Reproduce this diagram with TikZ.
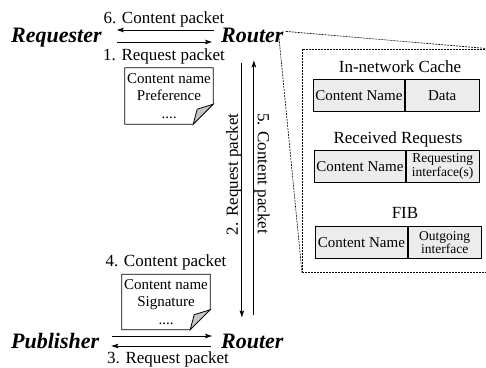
\documentclass[tikz,border=0pt]{standalone}
\usepackage{fontspec}
\setmainfont{Liberation Serif}
\usetikzlibrary{positioning, arrows.meta}

\tikzset{
  party/.style={font=\fontsize{22}{24}\selectfont\bfseries\itshape, inner sep=0pt},
  msg/.style={font=\fontsize{17}{18}\selectfont, inner sep=0pt},
  pkt/.style={line width=0.9pt, -{Stealth[length=7pt, width=4.5pt, inset=1.5pt]}},
  doc/.style={align=center, font=\fontsize{15}{17.5}\selectfont, inner sep=0pt},
  title/.style={font=\fontsize{17}{18}\selectfont, inner sep=0pt},
  cell/.style={draw, fill=gray!15, line width=0.8pt, minimum height=32pt, inner sep=1pt,
    align=center, font=\fontsize{15}{14.5}\selectfont},
  small/.style={font=\fontsize{13.5}{13.5}\selectfont},
  zoomline/.style={line width=0.6pt, dash pattern=on 2pt off 1pt}
}

% sheet outline with a folded corner round a node
\newcommand{\dogear}[1]{%
  \draw[line width=0.8pt] (#1.north west) -- (#1.north east) -- ([yshift=20pt]#1.south east)
    -- ([xshift=-20pt]#1.south east) -- (#1.south west) -- cycle;
  \filldraw[fill=gray!45, line width=0.8pt] ([yshift=20pt]#1.south east)
    .. controls ([xshift=-8pt,yshift=17pt]#1.south east) .. ([xshift=-16pt,yshift=15pt]#1.south east)
    -- ([xshift=-20pt]#1.south east) -- cycle;}

\begin{document}
\begin{tikzpicture}[x=1pt, y=-1pt]
    \useasboundingbox (0,0) rectangle (486,367);

    % Parties of the exchange
    \node[party, anchor=base west] (req) at (11,42) {Requester};  % consumer
    \node[party, anchor=base west] (rtTop) at (221,42) {Router};  % first hop
    \node[party, anchor=base west] (pub) at (11,348) {Publisher};  % producer
    \node[party, anchor=base west] (rtBot) at (221,348) {Router};  % last hop

    % Packets carried along
    \node[doc, minimum width=88pt, minimum height=56pt] (reqDoc) at (169,96) {Content name\\Preference\\....};
    \node[doc, minimum width=88pt, minimum height=55pt] (pubDoc) at (166,302) {Content name\\Signature\\....};
    \dogear{reqDoc}
    \dogear{pubDoc}
    \node[msg, above=3pt of reqDoc, xshift=-5pt] (reqLbl) {1. Request packet};
    \node[msg, above=3.5pt of pubDoc] (pubLbl) {4. Content packet};
    \node[msg, anchor=base] (backLbl) at (164,23) {6. Content packet};
    \node[msg, anchor=base] (askLbl) at (168,363) {3. Request packet};

    % Messages between requester and router
    \draw[pkt] ([xshift=-7pt, yshift=12pt]rtTop.base west) -- ([xshift=15pt, yshift=12pt]req.base east);
    \draw[pkt] ([xshift=15pt]req.base east) -- ([xshift=-9pt]rtTop.base west);

    % Messages between publisher and router
    \draw[pkt] ([xshift=13pt, yshift=12pt]pub.base east) -- ([xshift=-9pt, yshift=12pt]rtBot.base west);
    \draw[pkt] ([xshift=-10pt, yshift=2pt]rtBot.base west) -- ([xshift=12pt, yshift=2pt]pub.base east);

    % Messages between the two routers
    \draw[pkt] ([xshift=-10.5pt, yshift=-21pt]rtTop.south) -- node[msg, pos=0.46, rotate=90, above=6pt] {2. Request packet}
        ([xshift=-10.5pt, yshift=16pt]rtBot.north);
    \draw[pkt] ([xshift=1.5pt, yshift=18pt]rtBot.north) -- node[msg, pos=0.537, rotate=-90, above=5pt] {5. Content packet}
        ([xshift=1.5pt, yshift=-18pt]rtTop.south);

    % Inside of the router
    \node[draw, zoomline, minimum width=190pt, minimum height=223pt, anchor=north west] (inside) at (302,49) {};
    \draw[zoomline] ([xshift=2pt, yshift=-4pt]rtTop.north east) -- (inside.north east);
    \draw[zoomline] ([xshift=-5pt, yshift=-8pt]rtTop.north east) -- (inside.south west);

    \node[title, anchor=base] (cacheTtl) at (400,72) {In-network Cache};
    \node[cell, minimum width=91pt, anchor=north west] (cacheName) at (313,79) {Content Name};
    \node[cell, minimum width=74pt, right=0pt of cacheName] (cacheData) {Data};

    \node[title, anchor=base] (pitTtl) at (398,143) {Received Requests};
    \node[cell, minimum width=91pt, anchor=north west] (pitName) at (314,150) {Content Name};
    \node[cell, small, minimum width=73pt, right=0pt of pitName] (pitFace) {Requesting\\interface(s)};

    \node[title, anchor=base] (fibTtl) at (405,218) {FIB};
    \node[cell, minimum width=92pt, anchor=north west] (fibName) at (315,226) {Content Name};
    \node[cell, small, minimum width=73pt, right=0pt of fibName] (fibFace) {Outgoing\\interface};
\end{tikzpicture}
\end{document}
